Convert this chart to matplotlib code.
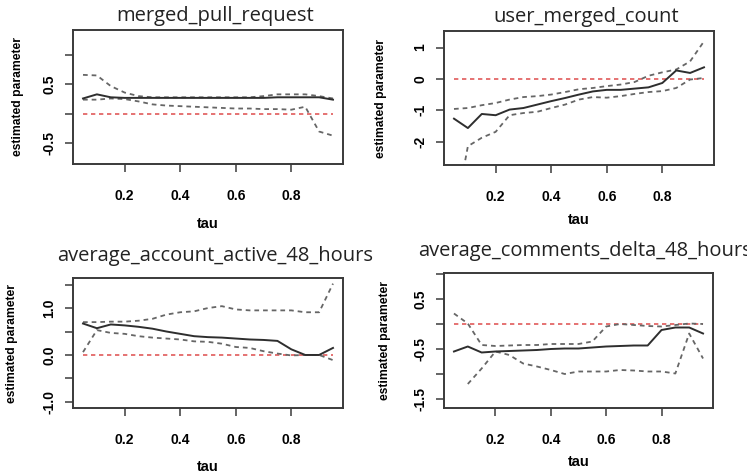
import numpy as np
import matplotlib
matplotlib.use("Agg")
import matplotlib.pyplot as plt

# quantile levels
tau = [0.05, 0.10, 0.15, 0.20, 0.25, 0.30, 0.35, 0.40, 0.45, 0.50,
       0.55, 0.60, 0.65, 0.70, 0.75, 0.80, 0.85, 0.90, 0.95]

titles = ["merged_pull_request", "user_merged_count",
          "average_account_active_48_hours", "average_comments_delta_48_hours"]

# merged_pull_request
mpr_coef = [0.26, 0.33, 0.28, 0.27, 0.27, 0.27, 0.27, 0.27, 0.27, 0.27,
            0.27, 0.27, 0.27, 0.27, 0.28, 0.28, 0.28, 0.28, 0.24]
mpr_upper = [0.66, 0.65, 0.47, 0.36, 0.30, 0.28, 0.28, 0.28, 0.28, 0.28,
             0.28, 0.28, 0.28, 0.30, 0.33, 0.33, 0.33, 0.30, 0.26]
mpr_lower = [0.24, 0.24, 0.26, 0.25, 0.21, 0.16, 0.14, 0.13, 0.12, 0.11,
             0.10, 0.09, 0.09, 0.08, 0.08, 0.07, 0.12, -0.30, -0.37]

# user_merged_count
umc_coef = [-1.27, -1.57, -1.12, -1.16, -0.98, -0.93, -0.82, -0.71, -0.61, -0.50,
            -0.40, -0.35, -0.35, -0.31, -0.27, -0.13, 0.27, 0.19, 0.37]
umc_upper = [-0.96, -0.93, -0.84, -0.77, -0.66, -0.58, -0.55, -0.50, -0.42, -0.33,
             -0.29, -0.23, -0.18, -0.10, 0.10, 0.21, 0.30, 0.56, 1.20]
umc_lower = [-4.5, -2.15, -1.88, -1.69, -1.16, -1.09, -1.05, -0.93, -0.82, -0.66,
             -0.58, -0.60, -0.55, -0.48, -0.42, -0.39, -0.29, -0.02, 0.03]

# average_account_active_48_hours
aaa_coef = [0.67, 0.57, 0.65, 0.63, 0.60, 0.56, 0.50, 0.45, 0.40, 0.38,
            0.37, 0.35, 0.33, 0.32, 0.30, 0.12, 0.00, 0.00, 0.15]
aaa_upper = [0.70, 0.70, 0.71, 0.71, 0.73, 0.77, 0.86, 0.91, 0.93, 1.00,
             1.04, 0.97, 0.95, 0.95, 0.95, 0.95, 0.91, 0.91, 1.52]
aaa_lower = [0.06, 0.53, 0.47, 0.45, 0.40, 0.37, 0.35, 0.33, 0.29, 0.28,
             0.24, 0.17, 0.15, 0.08, 0.03, -0.01, 0.00, 0.00, -0.11]

# average_comments_delta_48_hours
acd_coef = [-0.55, -0.45, -0.57, -0.55, -0.54, -0.53, -0.52, -0.50, -0.49, -0.49,
            -0.47, -0.45, -0.44, -0.43, -0.43, -0.12, -0.07, -0.07, -0.19]
acd_upper = [0.21, 0.01, -0.42, -0.44, -0.43, -0.42, -0.42, -0.40, -0.40, -0.40,
             -0.35, -0.05, 0.00, -0.02, -0.04, -0.05, -0.02, 0.01, 0.00]
acd_lower = [np.nan, -1.20, -0.89, -0.55, -0.62, -0.79, -0.85, -0.92, -1.00, -0.95,
             -0.95, -0.95, -0.92, -0.93, -0.95, -0.95, -0.99, -0.19, -0.69]

ylims = [(-0.85, 1.42), (-2.75, 1.53), (-1.13, 1.64), (-1.68, 1.02)]
yticks = [[-0.5, 0.0, 0.5, 1.0], [-2, -1, 0, 1],
          [-1.0, -0.5, 0.0, 0.5, 1.0, 1.5], [-1.5, -1.0, -0.5, 0.0, 0.5, 1.0]]
ytick_labels = [["-0.5", "", "0.5", ""], ["-2", "-1", "0", "1"],
                ["-1.0", "", "0.0", "", "1.0", ""],
                ["-1.5", "", "-0.5", "", "0.5", ""]]
xticks = [0.2, 0.4, 0.6, 0.8]
xtick_labels = ["0.2", "0.4", "0.6", "0.8"]

W, H = 747, 473
# axes boxes in pixels: left, top, right, bottom
boxes = [(73, 30, 343, 164), (444, 31, 714, 165),
         (73, 278, 343, 408), (444, 273, 713, 408)]
title_base = [21, 22, 261, 256]
ylabel_x = [18, 381, 12, 385]
xlabel_y = [224, 220, 467, 462]

BOLD = "Liberation Sans"
FRAME = "#3a3a3a"


def draw_panel(fig, k, coef, upper, lower):
    l, t, r, b = boxes[k]
    ax = fig.add_axes([l / W, 1 - b / H, (r - l) / W, (b - t) / H])
    ax.plot(tau, np.zeros(len(tau)), color="#e05a5a", lw=1.2, dashes=(2.6, 2.2))
    ax.plot(tau, upper, color="#666666", lw=1.3, dashes=(2.6, 2.2))
    ax.plot(tau, lower, color="#666666", lw=1.3, dashes=(2.6, 2.2))
    ax.plot(tau, coef, color="#2e2e2e", lw=1.4)

    ax.set_xlim(0.014, 0.986)
    ax.set_ylim(*ylims[k])
    ax.set_xticks(xticks)
    ax.set_xticklabels(xtick_labels, fontfamily=BOLD, fontweight="bold", fontsize=10)
    ax.set_yticks(yticks[k])
    ax.set_yticklabels(ytick_labels[k], fontfamily=BOLD, fontweight="bold",
                       fontsize=10, rotation=90, va="center")
    ax.tick_params(axis="x", length=6, width=1.1, color=FRAME, pad=12)
    ax.tick_params(axis="y", length=6, width=1.1, color=FRAME, pad=6)
    for s in ax.spines.values():
        s.set_color(FRAME)
        s.set_linewidth(1.4)

    h = b - t
    ax.set_ylabel("estimated parameter", fontfamily=BOLD, fontweight="bold",
                  fontsize=8.7, va="center")
    ax.yaxis.set_label_coords(-(l - ylabel_x[k]) / (r - l), 0.5)
    ax.set_xlabel("tau", fontfamily=BOLD, fontweight="bold", fontsize=10.5, va="center")
    ax.xaxis.set_label_coords(0.5, -(xlabel_y[k] - b) / h)

    ax.text(0.5 + 7 / (r - l), 1 + (t - title_base[k]) / h, titles[k],
            transform=ax.transAxes, ha="center", va="baseline",
            fontfamily="Open Sans", fontsize=14.5, color="#222222", clip_on=False)
    return ax


fig = plt.figure(figsize=(W / 100, H / 100), dpi=100)
draw_panel(fig, 0, mpr_coef, mpr_upper, mpr_lower)
draw_panel(fig, 1, umc_coef, umc_upper, umc_lower)
draw_panel(fig, 2, aaa_coef, aaa_upper, aaa_lower)
draw_panel(fig, 3, acd_coef, acd_upper, acd_lower)

fig.savefig("out.png", dpi=100, facecolor="white")
